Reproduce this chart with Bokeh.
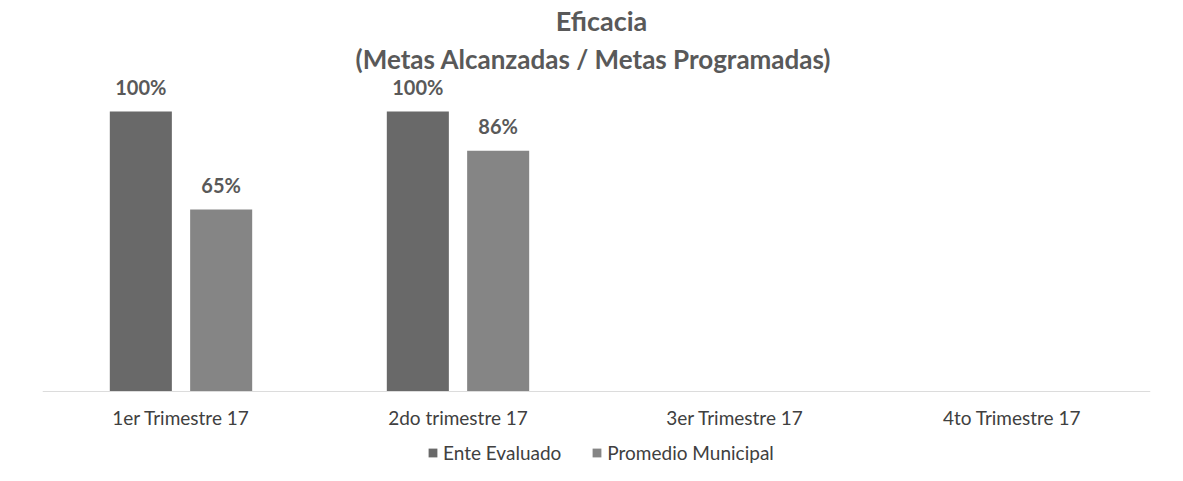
from bokeh.plotting import figure
from bokeh.models import ColumnDataSource, FactorRange, Range1d, Legend, LegendItem, Label
from bokeh.transform import dodge
from bokeh.core.properties import value
from bokeh.embed import file_html
from bokeh.resources import INLINE

# ---- data ----
categories = ["1er Trimestre 17", "2do trimestre 17", "3er Trimestre 17", "4to Trimestre 17"]
ente_evaluado = [100, 100, None, None]
promedio_municipal = [65, 86, None, None]
series_names = ["Ente Evaluado", "Promedio Municipal"]
title_text = "Eficacia"
subtitle_text = "(Metas Alcanzadas / Metas Programadas)"

FONT = "Lato"
C_ENTE = "#696969"
C_PROM = "#858585"
TXT = "#595959"

W, H = 1167, 465
BASE = 391            # pixel row of the value 0
PX_PER_UNIT = 2.8
LEFT, RIGHT = 42, 17

p = figure(width=W, height=H, x_range=FactorRange(*categories),
           y_range=Range1d(-(H - BASE) / PX_PER_UNIT, BASE / PX_PER_UNIT),
           output_backend="svg", toolbar_location=None,
           min_border_left=LEFT, min_border_right=RIGHT,
           min_border_top=0, min_border_bottom=0)
p.outline_line_color = None
p.background_fill_color = "white"
p.border_fill_color = "white"
p.grid.visible = False
p.yaxis.visible = False

xa = p.xaxis[0]
xa.fixed_location = 0
xa.axis_line_color = "#dcdcdc"
xa.axis_line_width = 1
xa.major_tick_line_color = None
xa.minor_tick_line_color = None
xa.major_tick_out = 0
xa.major_tick_in = 0
xa.major_label_standoff = 14
xa.major_label_text_font = FONT
xa.major_label_text_font_size = "19px"
xa.major_label_text_color = "#404040"

def src(vals):
    cats = [c for c, v in zip(categories, vals) if v is not None]
    vs = [v for v in vals if v is not None]
    return ColumnDataSource(dict(cat=cats, val=vs, lab=[f"{v}%" for v in vs]))

s1 = src(ente_evaluado)
s2 = src(promedio_municipal)

BW = 0.224
OFF = 0.145
r1 = p.vbar(x=dodge("cat", -OFF, range=p.x_range), top="val", width=BW, source=s1,
            fill_color=C_ENTE, line_color=None)
r2 = p.vbar(x=dodge("cat", OFF, range=p.x_range), top="val", width=BW, source=s2,
            fill_color=C_PROM, line_color=None)

for s, off in ((s1, -OFF), (s2, OFF)):
    p.text(x=dodge("cat", off, range=p.x_range), y="val", text="lab", source=s,
           text_align="center", text_baseline="alphabetic", y_offset=-25,
           text_font=value(FONT), text_font_style="bold", text_font_size="20px",
           text_color=TXT)

p.add_layout(Label(x=559, y=H - 20, x_units="screen", y_units="screen",
                   text=title_text, text_align="center", text_baseline="middle",
                   text_font=FONT, text_font_style="bold", text_font_size="27px",
                   text_color=TXT))
p.add_layout(Label(x=551, y=H - 58, x_units="screen", y_units="screen",
                   text=subtitle_text, text_align="center", text_baseline="middle",
                   text_font=FONT, text_font_style="bold", text_font_size="26px",
                   text_color=TXT))

legend = Legend(items=[LegendItem(label=series_names[0], renderers=[r1]),
                       LegendItem(label=series_names[1], renderers=[r2])],
                orientation="horizontal", location=(385, 1),
                glyph_width=11, glyph_height=11, label_standoff=5, spacing=30,
                label_height=18,
                padding=0, margin=0, border_line_color=None,
                background_fill_alpha=0,
                label_text_font=FONT, label_text_font_size="19px",
                label_text_color="#404040")
p.add_layout(legend, "center")

open("out.html", "w").write(file_html(p, INLINE))
